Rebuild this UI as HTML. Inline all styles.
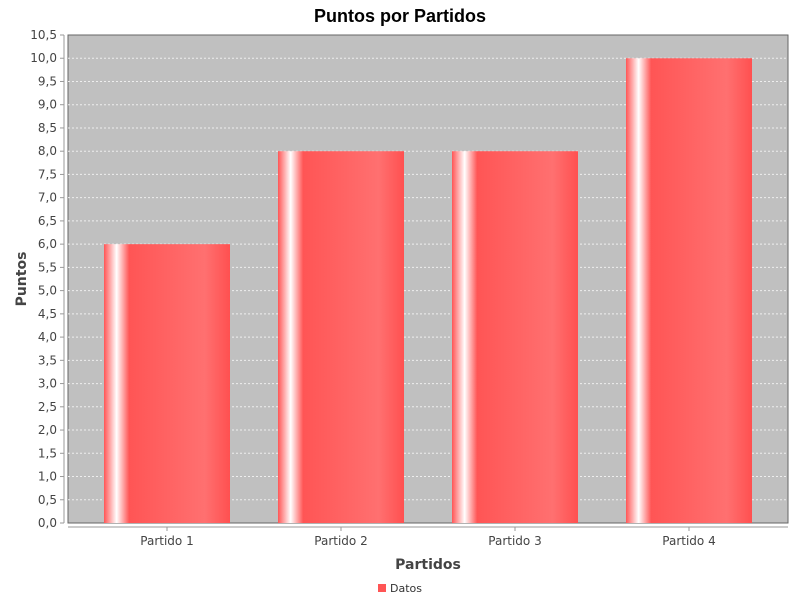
<!DOCTYPE html>
<html><head><meta charset="utf-8"><style>
body{margin:0;background:#fff}
svg{display:block;font-family:"DejaVu Sans","Liberation Sans",sans-serif}
</style></head><body>
<svg width="800" height="600">
<defs>
<linearGradient id="bg" x1="0" x2="1" y1="0" y2="0">
<stop offset="0" stop-color="#ff5555"/>
<stop offset="0.1" stop-color="#ffffff"/>
<stop offset="0.2" stop-color="#ff5555"/>
<stop offset="0.8" stop-color="#ff7070"/>
<stop offset="1" stop-color="#ff5050"/>
</linearGradient>
</defs>
<text x="400" y="22" text-anchor="middle" font-size="18" font-weight="bold" font-family="Liberation Sans, sans-serif">Puntos por Partidos</text>
<rect x="68" y="35" width="720" height="488" fill="#c0c0c0" stroke="#666" stroke-width="1"/>
<g id="grid"></g>
<g id="bars"></g>
<line x1="64" y1="35" x2="64" y2="523" stroke="#999"/>
<line x1="68" y1="527" x2="788" y2="527" stroke="#999"/>
<g id="yticks" font-size="12" fill="#444"></g>
<g id="xticks" font-size="12" fill="#444"></g>
<text transform="translate(26,279) rotate(-90)" text-anchor="middle" font-size="14" font-weight="bold" fill="#444">Puntos</text>
<text x="428" y="569" text-anchor="middle" font-size="14" font-weight="bold" fill="#444">Partidos</text>
<g>
<rect x="378" y="584" width="8" height="8" fill="#ff5555"/>
<text x="390" y="592" font-size="11" fill="#333">Datos</text>
</g>
</svg>
<script>
const categories=["Partido 1","Partido 2","Partido 3","Partido 4"];
const values=[6,8,8,10];
const yTicks=[0,0.5,1,1.5,2,2.5,3,3.5,4,4.5,5,5.5,6,6.5,7,7.5,8,8.5,9,9.5,10,10.5];
{
const NS="http://www.w3.org/2000/svg";
const pTop=35,pBot=523,pLeft=68,pRight=788,yMax=10.5;
const yS=v=>pBot-(v/yMax)*(pBot-pTop);
const n=categories.length;
const margin=36;
const bw=126;
const gap=((pRight-pLeft)-2*margin-n*bw)/(n-1);
const xS=i=>pLeft+margin+i*(bw+gap);
function mk(t,a,p){const e=document.createElementNS(NS,t);for(const k in a)e.setAttribute(k,a[k]);p.appendChild(e);return e;}
const g=document.getElementById('grid'),yt=document.getElementById('yticks');
yTicks.forEach(v=>{
  if(v>0&&v<yMax){const l=mk('line',{x1:pLeft,x2:pRight,y1:yS(v),y2:yS(v),stroke:'#eee','stroke-dasharray':'2,2'},g);
  
  }
  mk('line',{x1:60,x2:64,y1:yS(v),y2:yS(v),stroke:'#999'},yt);
  const t=mk('text',{x:57,y:yS(v)+4,'text-anchor':'end'},yt);
  t.textContent=v.toFixed(1).replace('.',',');
  
  
});
const b=document.getElementById('bars'),xt=document.getElementById('xticks');
categories.forEach((c,i)=>{
  const r=mk('rect',{x:xS(i),y:yS(values[i]),width:bw,height:pBot-yS(values[i]),fill:'url(#bg)'},b);
  
  
  const cx=xS(i)+bw/2;
  mk('line',{x1:cx,x2:cx,y1:527,y2:531,stroke:'#999'},xt);
  const t=mk('text',{x:cx,y:545,'text-anchor':'middle'},xt);
  t.textContent=c;
  
  
});
}
</script>
</body></html>
